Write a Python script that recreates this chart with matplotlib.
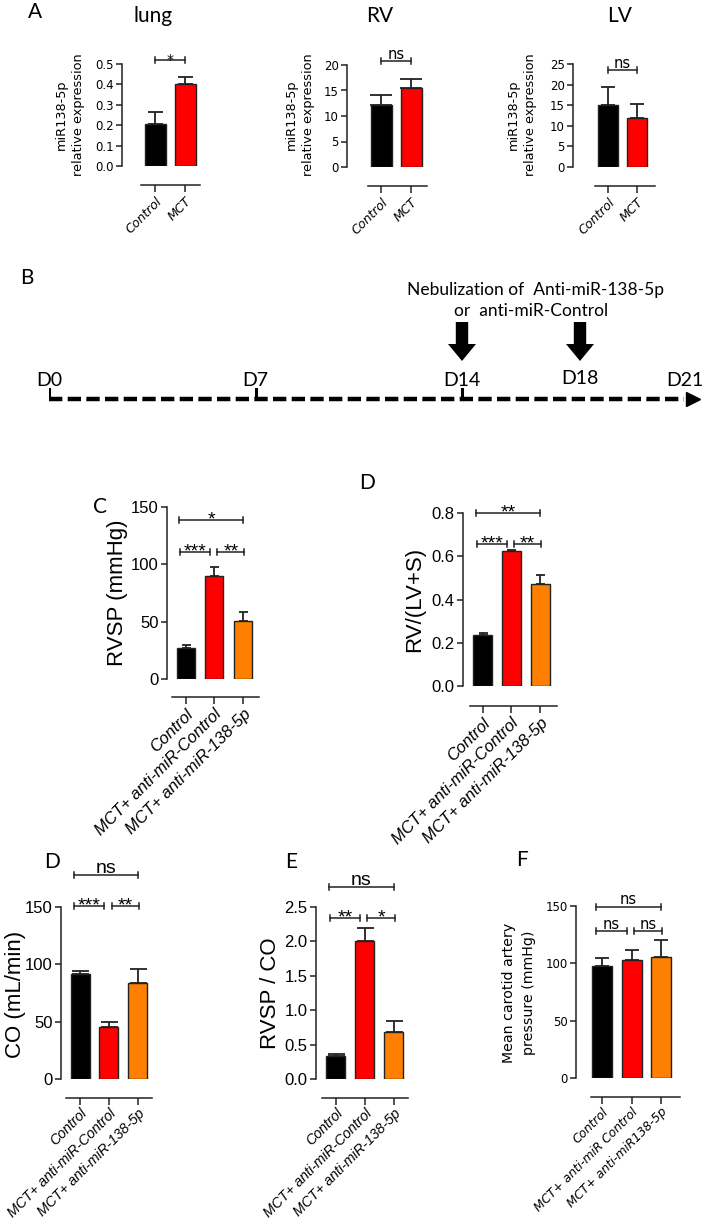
import matplotlib
matplotlib.use('Agg')
import matplotlib.pyplot as plt
from matplotlib.patches import FancyArrow
import numpy as np

# ---------------- data ----------------
A_groups = ['Control', 'MCT']
A_titles = ['lung', 'RV', 'LV']
lung_mean = [0.205, 0.40]
lung_sem = [0.06, 0.037]
rv_mean = [12.2, 15.4]
rv_sem = [2.0, 1.8]
lv_mean = [15.0, 12.0]
lv_sem = [4.5, 3.2]
A_sig = ['*', 'ns', 'ns']
A_sig_y = [0.52, 20.8, 23.5]

groups3 = ['Control', 'MCT+ anti-miR-Control', 'MCT+ anti-miR-138-5p']
groupsF = ['Control', 'MCT+ anti-miR Control', 'MCT+ anti-miR138-5p']

rvsp_mean = [27, 90, 51]
rvsp_sem = [3, 7.5, 7.5]
rvsp_sig = [(0, 1, 110.5, '***'), (1, 2, 110.5, '**'), (0, 2, 138.6, '*')]

rvlvs_mean = [0.235, 0.625, 0.473]
rvlvs_sem = [0.012, 0.006, 0.042]
rvlvs_sig = [(0, 1, 0.657, '***'), (1, 2, 0.657, '**'), (0, 2, 0.80, '**')]

co_mean = [92, 45, 84]
co_sem = [2, 5, 12]
co_sig = [(0, 1, 151, '***'), (1, 2, 151, '**'), (0, 2, 177.7, 'ns')]

rvspco_mean = [0.33, 2.0, 0.69]
rvspco_sem = [0.03, 0.2, 0.16]
rvspco_sig = [(0, 1, 2.34, '**'), (1, 2, 2.34, '*'), (0, 2, 2.79, 'ns')]

mcap_mean = [98, 103, 105.5]
mcap_sem = [7, 9, 14.5]
mcap_sig = [(0, 1, 128, 'ns'), (1, 2, 128, 'ns'), (0, 2, 149.5, 'ns')]

timeline_days = [0, 7, 14, 18, 21]
timeline_labels = ['D0', 'D7', 'D14', 'D18', 'D21']
tick_days = [0, 7, 14]
neb_days = [14, 18]
neb_text = ['Nebulization of  Anti-miR-138-5p', 'or  anti-miR-Control']

COL2 = ['#000000', '#ff0000']
COL3 = ['#000000', '#ff0000', '#ff8000']

# ---------------- style ----------------
W, H = 709, 1224
NARROW = ['Liberation Sans Narrow', 'Liberation Sans', 'DejaVu Sans']
WIDE = ['DejaVu Sans']
HUM = ['Lato', 'DejaVu Sans']
EDGE = '#222222'

fig = plt.figure(figsize=(W / 100, H / 100), dpi=100)

SPANS2 = {(0, 1): (0.0, 1.0)}
SPANS3 = {(0, 1): (-0.2, 0.85), (1, 2): (1.1, 2.05), (0, 2): (-0.22, 2.0)}


def bar_panel(left, top, zero, c0, dx, bar_w, line_l, line_r, line_y,
              means, sems, colors, yticks, yfmt, xlabels, sigs, spans,
              fam, tick_fs, xlab_fs, sig_fs, cap_px, xpad=2):
    right = line_r + 4
    ax = fig.add_axes([left / W, 1 - zero / H, (right - left) / W, (zero - top) / H])
    n = len(means)
    x = np.arange(n)
    ytop = yticks[-1]
    ax.set_xlim((left - c0) / dx, (right - c0) / dx)
    ax.set_ylim(0, ytop)
    ax.bar(x, means, width=bar_w / dx, color=colors, edgecolor=EDGE,
           linewidth=1.0, zorder=3)
    ax.errorbar(x, means, yerr=[np.zeros(n), sems], fmt='none', ecolor=EDGE,
                elinewidth=1.3, capsize=cap_px / 2 * 0.72, capthick=1.3, zorder=2)
    for s in ('top', 'right'):
        ax.spines[s].set_visible(False)
    for s in ('left', 'bottom'):
        ax.spines[s].set_color(EDGE)
        ax.spines[s].set_linewidth(1.1)
    ax.spines['left'].set_bounds(0, ytop)
    ax.spines['bottom'].set_position(('outward', (line_y - zero) * 0.72))
    ax.spines['bottom'].set_bounds((line_l - c0) / dx, (line_r - c0) / dx)
    ax.set_xticks(x)
    ax.set_xticklabels(xlabels, rotation=45, ha='right', rotation_mode='anchor',
                       fontsize=xlab_fs, family=fam, style='italic')
    ax.set_yticks(yticks)
    ax.set_yticklabels([yfmt.format(v) for v in yticks], fontsize=tick_fs, family=fam)
    ax.tick_params(axis='y', length=4, width=1.1, pad=2, color=EDGE)
    ax.tick_params(axis='x', length=5, width=1.1, pad=xpad, color=EDGE)
    ax.patch.set_visible(False)
    ppu = (zero - top) / ytop
    d = 3.0 / ppu
    for (i, j, yv, lab) in sigs:
        x1, x2 = spans[(i, j)]
        ax.plot([x1, x2], [yv, yv], color=EDGE, lw=1.1, clip_on=False)
        for xe in (x1, x2):
            ax.plot([xe, xe], [yv - d, yv + d], color=EDGE, lw=1.1, clip_on=False)
        off = -3 if '*' in lab else 1.5
        ax.annotate(lab, xy=((x1 + x2) / 2, yv), xytext=(0, off),
                    textcoords='offset points', ha='center', va='baseline',
                    fontsize=sig_fs, family=fam, annotation_clip=False)
    return ax


def ftext(x, y, s, **kw):
    fig.text(x / W, 1 - y / H, s, **kw)


# ---------------- Panel A ----------------
bar_panel(122, 64, 166, 155, 30, 21, 141, 200, 185, lung_mean, lung_sem, COL2,
          [0.0, 0.1, 0.2, 0.3, 0.4, 0.5], '{:.1f}', A_groups,
          [(0, 1, A_sig_y[0], A_sig[0])], SPANS2, WIDE, 8.5, 9, 10, 15)
bar_panel(347, 65, 167, 381, 30, 21, 368, 427, 186, rv_mean, rv_sem, COL2,
          [0, 5, 10, 15, 20], '{:d}', A_groups,
          [(0, 1, A_sig_y[1], A_sig[1])], SPANS2, WIDE, 8.5, 9, 10.5, 22)
bar_panel(573, 64, 167, 608, 29, 20, 595, 655, 186, lv_mean, lv_sem, COL2,
          [0, 5, 10, 15, 20, 25], '{:d}', A_groups,
          [(0, 1, A_sig_y[2], A_sig[2])], SPANS2, WIDE, 8.5, 9, 10.5, 14)

for xc, t in zip([153, 380, 620], A_titles):
    ftext(xc, 16, t, ha='center', va='center', fontsize=15, family=HUM)
for xc in [70, 300, 522]:
    ftext(xc, 115, 'miR138-5p\nrelative expression', ha='center', va='center',
          rotation=90, fontsize=9.3, family=WIDE, linespacing=1.35)

# ---------------- Panel B (timeline) ----------------
px_per_day = 29.5
axB = fig.add_axes([49 / W, 1 - 412 / H, (702 - 49) / W, 152 / H])
axB.set_xlim(0, (702 - 49) / px_per_day)
axB.set_ylim(412, 260)
axB.axis('off')
line_y = 399
end_day = (684 - 49) / px_per_day
axB.plot([0, end_day], [line_y, line_y], color='black', lw=3.2, dashes=(3.0, 1.2),
         solid_capstyle='butt', dash_capstyle='butt')
axB.plot([end_day + 0.3], [line_y], marker='>', ms=10, color='black', mec='black')
for dday in tick_days:
    axB.plot([dday, dday], [line_y, 389], color='black', lw=2.2)
for dday, lab in zip(timeline_days, timeline_labels):
    shift = 0.55 if dday == timeline_days[-1] else 0.0
    yl = 378 if lab == 'D18' else 381
    axB.text(dday + shift, yl, lab, ha='center', va='center', fontsize=14, family=HUM)
for dday in neb_days:
    axB.add_patch(FancyArrow(dday, 322, 0, 39, width=0.42, head_width=0.95,
                             head_length=17, length_includes_head=True,
                             color='black', lw=0))
axB.text(16.5, 290, neb_text[0], ha='center', va='center', fontsize=12.5, family=HUM)
axB.text(16.35, 311, neb_text[1], ha='center', va='center', fontsize=12.5, family=HUM)

# ---------------- Panels C, D ----------------
bar_panel(167, 507, 679, 185.5, 28.75, 18, 172, 259, 697, rvsp_mean, rvsp_sem, COL3,
          [0, 50, 100, 150], '{:d}', groups3, rvsp_sig, SPANS3,
          NARROW, 12, 12, 14, 9)
bar_panel(463, 513, 686, 482.5, 28.75, 19, 470, 557, 706, rvlvs_mean, rvlvs_sem, COL3,
          [0.0, 0.2, 0.4, 0.6, 0.8], '{:.1f}', groups3, rvlvs_sig, SPANS3,
          NARROW, 12, 12, 14, 9)
ftext(118, 593, 'RVSP (mmHg)', ha='center', va='center', rotation=90, fontsize=16, family=NARROW)
ftext(415, 599, 'RV/(LV+S)', ha='center', va='center', rotation=90, fontsize=16, family=NARROW)

# ---------------- Panels D (CO), E, F ----------------
bar_panel(61, 907, 1079, 80, 28.75, 19, 66, 152, 1098, co_mean, co_sem, COL3,
          [0, 50, 100, 150], '{:d}', groups3, co_sig, SPANS3,
          NARROW, 12, 10.3, 14, 17, xpad=1)
bar_panel(316, 907, 1079, 335.5, 29, 19, 322, 408, 1098, rvspco_mean, rvspco_sem, COL3,
          [0.0, 0.5, 1.0, 1.5, 2.0, 2.5], '{:.1f}', groups3, rvspco_sig, SPANS3,
          NARROW, 12, 10.3, 14, 17, xpad=1)
bar_panel(576, 906, 1078, 602, 29.5, 20, 591, 680, 1097, mcap_mean, mcap_sem, COL3,
          [0, 50, 100, 150], '{:d}', groupsF, mcap_sig, SPANS3,
          WIDE, 8.5, 8.8, 10.5, 14, xpad=1)
ftext(16, 994, 'CO (mL/min)', ha='center', va='center', rotation=90, fontsize=16, family=NARROW)
ftext(270, 993, 'RVSP / CO', ha='center', va='center', rotation=90, fontsize=16, family=NARROW)
ftext(519, 993, 'Mean carotid artery\npressure (mmHg)', ha='center', va='center',
      rotation=90, fontsize=10.2, family=WIDE, linespacing=1.55)

# ---------------- panel letters ----------------
for (xc, yc, s) in [(35, 12, 'A'), (27, 278, 'B'), (100, 507, 'C'), (367, 483, 'D'),
                    (52, 862, 'D'), (291, 862, 'E'), (522, 860, 'F')]:
    ftext(xc, yc, s, ha='center', va='center', fontsize=15, family=HUM)

fig.savefig('out.png', dpi=100)
